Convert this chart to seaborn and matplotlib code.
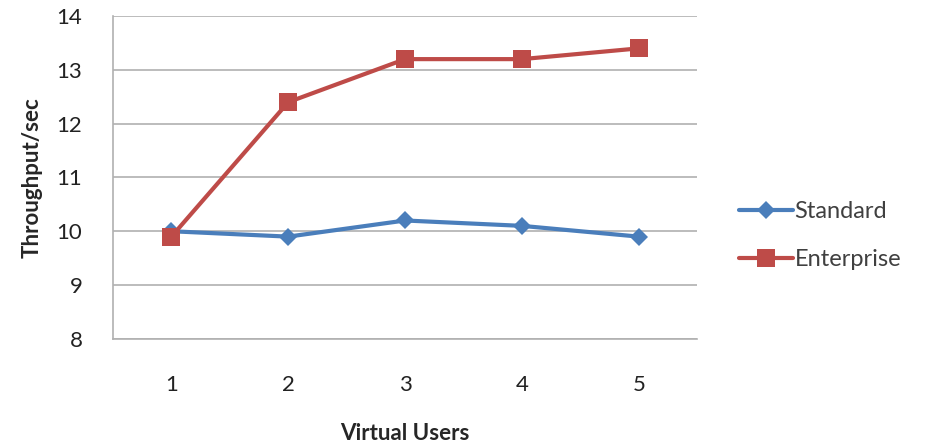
import pandas as pd
import matplotlib
matplotlib.use('Agg')
import matplotlib.pyplot as plt
import seaborn as sns

users = [1, 2, 3, 4, 5]
standard = [10.0, 9.9, 10.2, 10.1, 9.9]
enterprise = [9.9, 12.4, 13.2, 13.2, 13.4]
series = ['Standard', 'Enterprise']

df = pd.DataFrame({
    'users': [str(u) for u in users] * 2,
    'value': standard + enterprise,
    'series': [series[0]] * len(users) + [series[1]] * len(users),
})

sns.set_style('white')
plt.rcParams['font.family'] = ['Lato', 'DejaVu Sans']

fig = plt.figure(figsize=(9.26, 4.47), dpi=100)
ax = fig.add_axes([0.122, 0.242, 0.631, 0.722])

palette = {'Standard': '#4a7ebb', 'Enterprise': '#be4b48'}
sns.lineplot(data=df, x='users', y='value', hue='series', style='series',
             markers={'Standard': 'D', 'Enterprise': 's'}, dashes=False,
             palette=palette, linewidth=3, markeredgewidth=0, ax=ax,
             sort=False)
for line, ms in zip(ax.lines, [9, 13]):
    line.set_markersize(ms)

ax.set_ylim(8, 14)
ax.set_xlim(-0.5, 4.5)
ax.set_yticks(range(8, 15))
ax.yaxis.grid(True, color='#b0b0b0', linewidth=1.2)
ax.set_axisbelow(True)
for s in ['top', 'right']:
    ax.spines[s].set_visible(False)
for s in ['left', 'bottom']:
    ax.spines[s].set_color('#b0b0b0')
    ax.spines[s].set_linewidth(1.2)
ax.tick_params(axis='x', length=0, pad=26, labelsize=16, labelcolor='#222222')
ax.tick_params(axis='y', length=0, pad=22, labelsize=16, labelcolor='#222222')
ax.set_xlabel('Virtual Users', fontsize=16, fontweight='bold', labelpad=20)
ax.set_ylabel('Throughput/sec', fontsize=16, fontweight='bold', labelpad=10)

handles, labels = ax.get_legend_handles_labels()
for h, ms in zip(handles, [9, 13]):
    h.set_markersize(ms)
ax.legend(handles, labels, loc='center left', bbox_to_anchor=(1.035, 0.32),
          frameon=False, fontsize=17, labelspacing=1.15, handlelength=2.3,
          handletextpad=0.05, labelcolor='#404040')

fig.savefig('out.png', dpi=100)
